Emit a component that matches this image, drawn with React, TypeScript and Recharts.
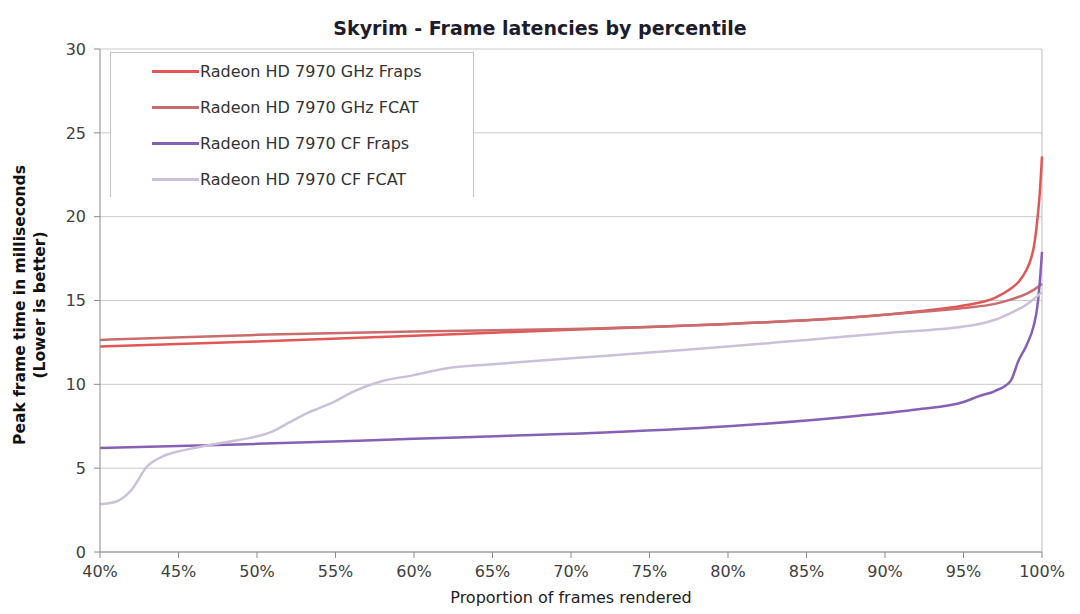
import { LineChart, Line, XAxis, YAxis, CartesianGrid, Legend, ReferenceLine } from 'recharts'

// percentile (x) and peak frame time in ms (y)
const ghzFrapsPct = [40, 50, 60, 70, 80, 88, 92, 95, 97, 98, 98.5, 99, 99.3, 99.5, 99.7, 99.85, 100]
const ghzFrapsMs = [12.25, 12.55, 12.9, 13.25, 13.6, 14.0, 14.35, 14.7, 15.15, 15.7, 16.1, 16.8, 17.5, 18.3, 19.8, 21.3, 23.6]

const ghzFcatPct = [40, 50, 60, 70, 80, 88, 92, 95, 97, 98, 99, 99.5, 100]
const ghzFcatMs = [12.65, 12.95, 13.15, 13.3, 13.6, 14.0, 14.3, 14.55, 14.8, 15.05, 15.4, 15.65, 16.0]

const cfFrapsPct = [40, 50, 60, 70, 80, 88, 92, 95, 96, 97, 98, 98.5, 99, 99.5, 99.7, 99.85, 100]
const cfFrapsMs = [6.2, 6.45, 6.75, 7.05, 7.5, 8.1, 8.5, 8.95, 9.3, 9.6, 10.2, 11.4, 12.3, 13.6, 14.6, 16.0, 17.9]

const cfFcatPct = [40, 41, 42, 43, 44, 45, 46, 48, 50, 51, 52, 53, 54, 55, 56, 57, 58, 60, 62, 65, 70, 75, 80, 85, 90, 95, 96, 97, 98, 99, 99.5, 100]
const cfFcatMs = [2.85, 3.0, 3.7, 5.1, 5.7, 6.0, 6.2, 6.55, 6.9, 7.2, 7.7, 8.2, 8.6, 9.0, 9.5, 9.9, 10.2, 10.55, 10.95, 11.2, 11.55, 11.9, 12.25, 12.65, 13.05, 13.45, 13.6, 13.85, 14.25, 14.75, 15.1, 15.5]

const xTicks = [40, 45, 50, 55, 60, 65, 70, 75, 80, 85, 90, 95, 100]
const yTicks = [0, 5, 10, 15, 20, 25, 30]

const zip = (xs: number[], ys: number[]) => xs.map((x, i) => ({ pct: x, ms: ys[i] }))

const series = [
  { name: 'Radeon HD 7970 GHz Fraps', color: '#e35656', data: zip(ghzFrapsPct, ghzFrapsMs) },
  { name: 'Radeon HD 7970 GHz FCAT', color: '#c96c6c', data: zip(ghzFcatPct, ghzFcatMs) },
  { name: 'Radeon HD 7970 CF Fraps', color: '#8660b4', data: zip(cfFrapsPct, cfFrapsMs) },
  { name: 'Radeon HD 7970 CF FCAT', color: '#cbbfd9', data: zip(cfFcatPct, cfFcatMs) },
]

const font = '"DejaVu Sans", Verdana, sans-serif'

const LegendBox = () => (
  <div style={{
    width: 364, height: 145, boxSizing: 'border-box', background: '#fff',
    borderTop: '1px solid #c4c4c4', borderLeft: '1px solid #c4c4c4', borderRight: '1px solid #c4c4c4',
    paddingTop: 0,
  }}>
    {series.map(s => (
      <div key={s.name} style={{ display: 'flex', alignItems: 'center', height: 36 }}>
        <div style={{ marginLeft: 41, width: 47, height: 3, background: s.color }} />
        <span style={{ fontFamily: font, fontSize: 16, color: '#333', marginLeft: 1 }}>{s.name}</span>
      </div>
    ))}
  </div>
)

export default function App() {
  return (
    <div style={{ position: 'relative', width: 1080, height: 614, background: '#fff', fontFamily: font }}>
      <style>{'body{margin:0}'}</style>
      <div style={{
        position: 'absolute', top: 17, left: 0, width: 1080, textAlign: 'center',
        fontSize: 19, fontWeight: 'bold', color: '#1c1c2c',
      }}>
        Skyrim - Frame latencies by percentile
      </div>
      <div style={{
        position: 'absolute', left: 30, top: 305, width: 360, transform: 'translate(-50%, -50%) rotate(-90deg)',
        textAlign: 'center', fontSize: 15.5, fontWeight: 'bold', color: '#111', lineHeight: '20px',
      }}>
        Peak frame time in milliseconds<br />(Lower is better)
      </div>
      <div style={{
        position: 'absolute', left: 100, width: 942, top: 588, textAlign: 'center',
        fontSize: 16, color: '#222',
      }}>
        Proportion of frames rendered
      </div>
      <LineChart width={1080} height={614} margin={{ top: 49, right: 38, bottom: 22, left: 20 }}>
        <CartesianGrid vertical={false} stroke="#cacaca" />
        <XAxis
          dataKey="pct" type="number" domain={[40, 100]} ticks={xTicks}
          tickFormatter={v => `${v}%`} allowDuplicatedCategory={false}
          stroke="#8a8a8a" tickSize={6} tickMargin={8} height={40}
          tick={{ fill: '#404040', fontSize: 16, fontFamily: font }}
        />
        <YAxis
          dataKey="ms" type="number" domain={[0, 30]} ticks={yTicks}
          stroke="#8a8a8a" tickSize={6} tickMargin={8} width={80}
          tick={{ fill: '#404040', fontSize: 16, fontFamily: font }}
        />
        <ReferenceLine x={100} stroke="#bdbdbd" />
        <Legend
          layout="horizontal" verticalAlign="middle" align="center"
          content={() => <LegendBox />}
          wrapperStyle={{ left: 110, top: 52, width: 364, height: 145 }}
        />
        {series.map(s => (
          <Line
            key={s.name} data={s.data} dataKey="ms" name={s.name}
            type="monotone" stroke={s.color} strokeWidth={2.5}
            dot={false} activeDot={false} isAnimationActive={false}
          />
        ))}
      </LineChart>
    </div>
  )
}
